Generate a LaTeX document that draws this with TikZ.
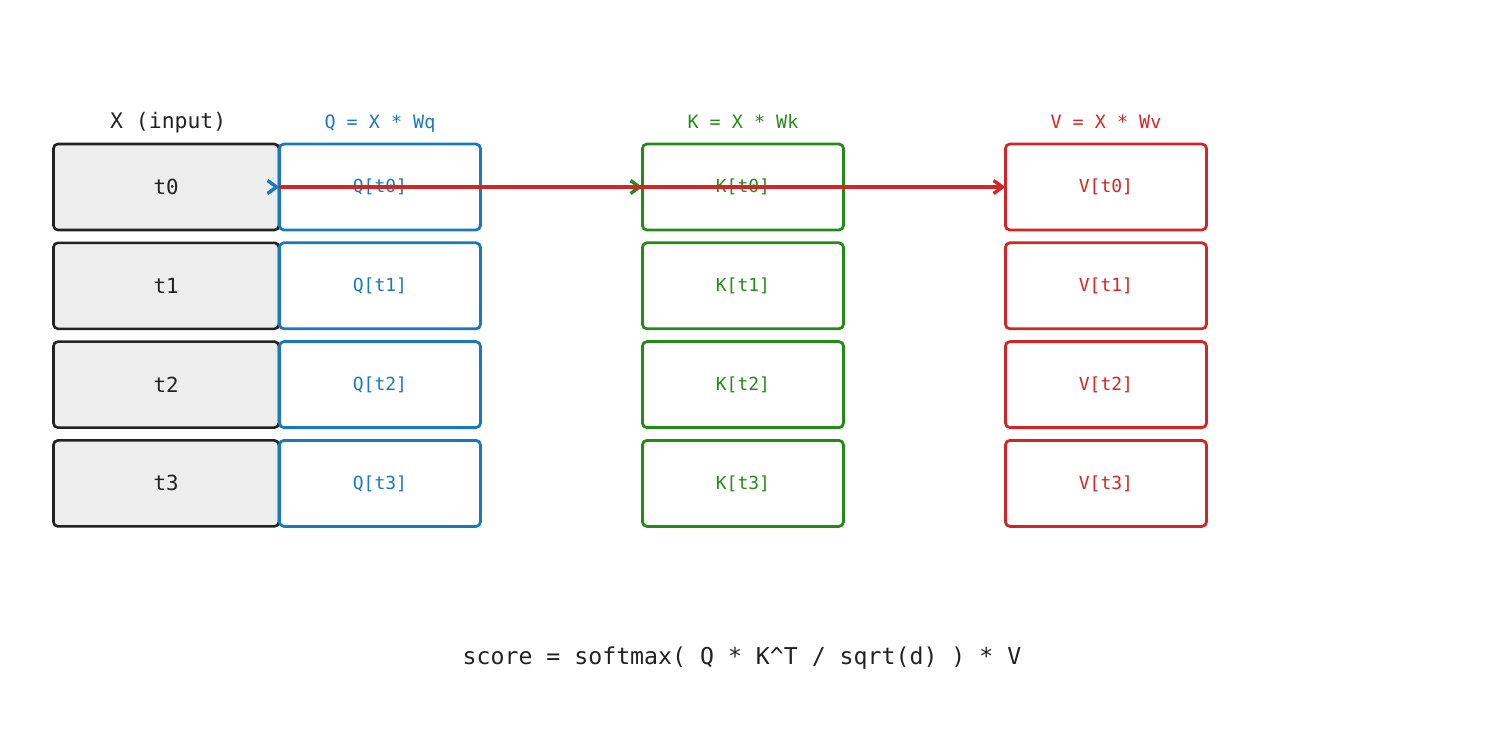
\documentclass[tikz,border=0pt]{standalone}
\usepackage{fontspec}
\setmonofont{DejaVu Sans Mono}
\usetikzlibrary{arrows.meta,positioning}
\definecolor{qblue}{HTML}{1A78BE}
\definecolor{kgreen}{HTML}{258A17}
\definecolor{vred}{HTML}{D22626}
\definecolor{xgray}{HTML}{222222}
\tikzset{
    xbox/.style={draw=xgray, fill=gray!14, rounded corners=2.25pt, line width=1.3pt, minimum width=112.75pt, minimum height=43pt, outer sep=0pt, font=\ttfamily\fontsize{10.4}{12}\selectfont, text=xgray},
    qkvbox/.style={draw=#1, rounded corners=2.25pt, line width=1.4pt, minimum width=100.5pt, minimum height=43pt, outer sep=0pt, font=\ttfamily\fontsize{9}{11}\selectfont, text=#1},
    headlabel/.style={font=\ttfamily\fontsize{9.2}{11}\selectfont, text=#1, inner sep=0pt, anchor=base},
    rowarrow/.style={-{Straight Barb[length=4.5pt,width=6.5pt]}, line width=1.7pt, draw=#1}
}
\begin{document}
\begin{tikzpicture}[node distance=6.4pt and 81pt]
    \useasboundingbox (0,0) rectangle (742.5pt,-367.5pt);
    \node[xbox] (t0) at (83.1pt,-93.5pt) {t0};
    \node[xbox, below=of t0] (t1) {t1};
    \node[xbox, below=of t1] (t2) {t2};
    \node[xbox, below=of t2] (t3) {t3};

    \node[qkvbox=qblue, right=0.25pt of t0] (q0) {Q[t0]};
    \node[qkvbox=kgreen, right=of q0] (k0) {K[t0]};
    \node[qkvbox=vred, right=of k0] (v0) {V[t0]};
    \foreach \i [remember=\i as \j (initially 0)] in {1,2,3} {
        \node[qkvbox=qblue, below=of q\j] (q\i) {Q[t\i]};
        \node[qkvbox=kgreen, below=of k\j] (k\i) {K[t\i]};
        \node[qkvbox=vred, below=of v\j] (v\i) {V[t\i]};
    }

    % column headings share one baseline
    \node[headlabel=xgray, font=\ttfamily\fontsize{10.7}{12}\selectfont, xshift=1pt] (xhead) at (t0.north |- 0,-64pt) {X (input)};
    \node[headlabel=qblue] (qhead) at (q0.north |- 0,-64pt) {Q = X * Wq};
    \node[headlabel=kgreen] (khead) at (k0.north |- 0,-64pt) {K = X * Wk};
    \node[headlabel=vred] (vhead) at (v0.north |- 0,-64pt) {V = X * Wv};

    \draw[rowarrow=qblue] ([xshift=-1pt]t0.east) -- (q0.west);
    \draw[rowarrow=kgreen] (t0.east) -- (k0.west);
    \draw[rowarrow=vred] (t0.east) -- (v0.west);

    \node[font=\ttfamily\fontsize{11.6}{14}\selectfont, text=xgray] (formula) at (371pt,-329pt) {score = softmax( Q * K\^{}T / sqrt(d) ) * V};
\end{tikzpicture}
\end{document}
